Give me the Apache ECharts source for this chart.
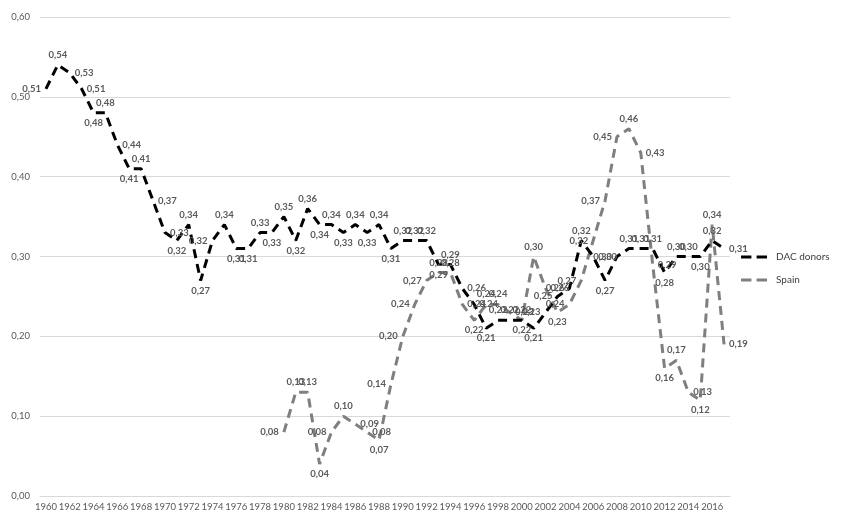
<!DOCTYPE html>
<html>
<head>
<meta charset="utf-8">
<script src="https://cdn.jsdelivr.net/npm/echarts@6/dist/echarts.min.js"></script>
<style>
  html, body { margin: 0; padding: 0; background: #fff; }
  #chart { width: 844px; height: 515px; }
</style>
</head>
<body>
<div id="chart"></div>
<script>
// years 1960 - 2017
const years = []
for (let y = 1960; y <= 2017; y++) years.push(String(y))

const dacDonors = [
  0.51, 0.54, 0.53, 0.51, 0.48, 0.48, 0.44, 0.41, 0.41, 0.37,
  0.33, 0.32, 0.34, 0.27, 0.32, 0.34, 0.31, 0.31, 0.33, 0.33,
  0.35, 0.32, 0.36, 0.34, 0.34, 0.33, 0.34, 0.33, 0.34, 0.31,
  0.32, 0.32, 0.32, 0.29, 0.29, 0.26, 0.24, 0.21, 0.22, 0.22,
  0.22, 0.21, 0.23, 0.25, 0.26, 0.32, 0.30, 0.27, 0.30, 0.31,
  0.31, 0.31, 0.28, 0.30, 0.30, 0.30, 0.32, 0.31
]

const spain = [
  null, null, null, null, null, null, null, null, null, null,
  null, null, null, null, null, null, null, null, null, null,
  0.08, 0.13, 0.13, 0.04, 0.08, 0.10, 0.09, 0.08, 0.07, 0.14,
  0.20, 0.24, 0.27, 0.28, 0.28, 0.24, 0.22, 0.24, 0.24, 0.23,
  0.22, 0.30, 0.26, 0.23, 0.24, 0.27, 0.32, 0.37, 0.45, 0.46,
  0.43, 0.29, 0.16, 0.17, 0.13, 0.12, 0.34, 0.19
]

const fmt = v => v.toFixed(2).replace('.', ',')

// rough imitation of excel's automatic label placement
function withLabels (arr) {
  return arr.map((v, i) => {
    if (v == null) return null
    const prev = arr[i - 1], next = arr[i + 1]
    let pos = 'right'
    if (prev == null) pos = 'left'
    else if (next == null) pos = 'right'
    else if (v >= prev && v >= next) pos = 'top'
    else if (v <= prev && v <= next) pos = 'bottom'
    else if (v > prev) pos = 'left'
    else pos = 'right'
    return { value: v, label: { position: pos } }
  })
}

const labelStyle = {
  show: true,
  formatter: p => fmt(p.value),
  fontFamily: 'Lato',
  fontSize: 9.5,
  fontWeight: 'bold',
  color: '#595959',
  distance: 5
}

const chart = echarts.init(document.getElementById('chart'))
chart.setOption({
  animation: false,
  textStyle: { fontFamily: 'Lato' },
  grid: { left: 40, right: 114, top: 17, bottom: 19, containLabel: false },
  legend: {
    orient: 'vertical',
    left: 736,
    top: 247,
    itemWidth: 26,
    itemHeight: 4,
    itemGap: 13,
    icon: 'path://M0,0h10v3h-10z M15,0h10v3h-10z',
    textStyle: { fontFamily: 'Lato', fontSize: 10, color: '#404040', padding: [0, 0, 0, 4] },
    data: ['DAC donors', 'Spain']
  },
  xAxis: {
    type: 'category',
    data: years,
    boundaryGap: true,
    axisLine: { lineStyle: { color: '#d9d9d9' } },
    axisTick: { show: false },
    axisLabel: { interval: 1, fontSize: 9.5, color: '#595959', margin: 6 }
  },
  yAxis: {
    type: 'value',
    min: 0,
    max: 0.6,
    interval: 0.1,
    axisLine: { show: false },
    axisTick: { show: false },
    axisLabel: { fontSize: 9.5, color: '#595959', margin: 10, formatter: v => fmt(v) },
    splitLine: { lineStyle: { color: '#d9d9d9' } }
  },
  series: [
    {
      name: 'Spain',
      type: 'line',
      data: withLabels(spain),
      showSymbol: true,
      symbol: 'circle',
      symbolSize: 0,
      color: '#7f7f7f',
      lineStyle: { color: '#7f7f7f', width: 3, type: [9, 6] },
      label: labelStyle,
      labelLayout: { hideOverlap: false }
    },
    {
      name: 'DAC donors',
      type: 'line',
      data: withLabels(dacDonors),
      showSymbol: true,
      symbol: 'circle',
      symbolSize: 0,
      color: '#000',
      lineStyle: { color: '#000', width: 3, type: [9, 6] },
      label: labelStyle,
      labelLayout: { hideOverlap: false }
    }
  ]
})
</script>
</body>
</html>
